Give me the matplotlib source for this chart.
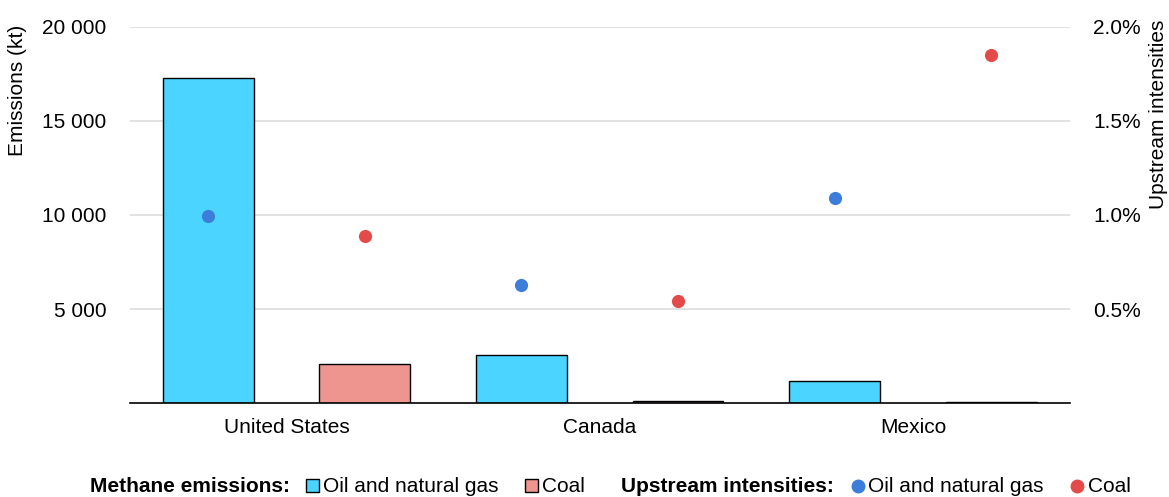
import numpy as np
import matplotlib
matplotlib.use('Agg')
import matplotlib.pyplot as plt
from matplotlib.ticker import FuncFormatter
from matplotlib.patches import Patch
from matplotlib.lines import Line2D

plt.rcParams['font.family'] = ['Liberation Sans', 'DejaVu Sans']

# datos
countries = ['United States', 'Canada', 'Mexico']
emis_oilgas = [17300, 2550, 1170]      # kt
emis_coal = [2100, 100, 70]            # kt
int_oilgas = [0.995, 0.63, 1.09]       # %
int_coal = [0.89, 0.54, 1.85]          # %

c_oil = '#4AD4FF'
c_coal = '#EE9590'
c_dot_oil = '#3B7DD8'
c_dot_coal = '#E44A4A'
fs = 15

fig = plt.figure(figsize=(11.69, 4.97), dpi=100)
ax = fig.add_axes([0.111, 0.189, 0.804, 0.757])
ax2 = ax.twinx()

x = np.arange(len(countries))
off = 0.25
w = 0.29

ax.bar(x - off, emis_oilgas, w, color=c_oil, edgecolor='black', linewidth=1, zorder=3)
ax.bar(x + off, emis_coal, w, color=c_coal, edgecolor='black', linewidth=1, zorder=3)

ax2.scatter(x - off, int_oilgas, s=90, color=c_dot_oil, zorder=4, linewidths=0)
ax2.scatter(x + off, int_coal, s=90, color=c_dot_coal, zorder=4, linewidths=0)

ax.set_xlim(-0.5, 2.5)
ax.set_ylim(0, 20000)
ax2.set_ylim(0, 2.0)

ax.set_yticks([5000, 10000, 15000, 20000])
ax.yaxis.set_major_formatter(FuncFormatter(lambda v, p: f'{int(v):,}'.replace(',', ' ')))
ax2.set_yticks([0.5, 1.0, 1.5, 2.0])
ax2.yaxis.set_major_formatter(FuncFormatter(lambda v, p: f'{v:.1f}%'))

ax.set_xticks(x)
ax.set_xticklabels(countries)

ax.grid(axis='y', color='#DDDDDD', linewidth=1.2, zorder=0)
ax.set_axisbelow(True)

for a in (ax, ax2):
    for s in ['top', 'left', 'right', 'bottom']:
        a.spines[s].set_visible(False)
ax.spines['bottom'].set_visible(True)
ax.spines['bottom'].set_color('black')
ax.spines['bottom'].set_linewidth(1.2)
ax.spines['bottom'].set_zorder(5)

ax.tick_params(axis='both', length=0, labelsize=fs)
ax.tick_params(axis='y', pad=17)
ax.tick_params(axis='x', pad=11)
ax2.tick_params(axis='y', length=0, labelsize=fs, pad=17)

# títulos de ejes
fig.text(18 / 1169, 1 - 25 / 497, 'Emissions (kt)', fontsize=fs, rotation=90, ha='center', va='top')
fig.text(1159 / 1169, 1 - 20 / 497, 'Upstream intensities', fontsize=fs, rotation=90, ha='center', va='top')

# leyenda manual
fig.canvas.draw()
r = fig.canvas.get_renderer()
ly = 1 - 487 / 497

def place_text(xpx, txt):
    t = fig.text(xpx / 1169, ly, txt, fontsize=fs, fontweight='bold', ha='left', va='center')
    fig.canvas.draw()
    return t.get_window_extent(r).x1

def place_legend(xpx, handles, labels):
    leg = fig.legend(handles, labels, loc='center left', bbox_to_anchor=(xpx / 1169, ly),
                     ncol=2, frameon=False, fontsize=fs, borderpad=0, borderaxespad=0,
                     handlelength=0.6, handleheight=0.6, handletextpad=0.2, columnspacing=1.3)
    fig.canvas.draw()
    return leg.get_window_extent(r).x1

x1 = place_text(90, 'Methane emissions:')
x2 = place_legend(x1 + 16,
                  [Patch(facecolor=c_oil, edgecolor='black'), Patch(facecolor=c_coal, edgecolor='black')],
                  ['Oil and natural gas', 'Coal'])
x3 = place_text(x2 + 36, 'Upstream intensities:')
place_legend(x3 + 18,
             [Line2D([], [], marker='o', ls='', color=c_dot_oil, markersize=9),
              Line2D([], [], marker='o', ls='', color=c_dot_coal, markersize=9)],
             ['Oil and natural gas', 'Coal'])

fig.savefig('out.png', dpi=100)
